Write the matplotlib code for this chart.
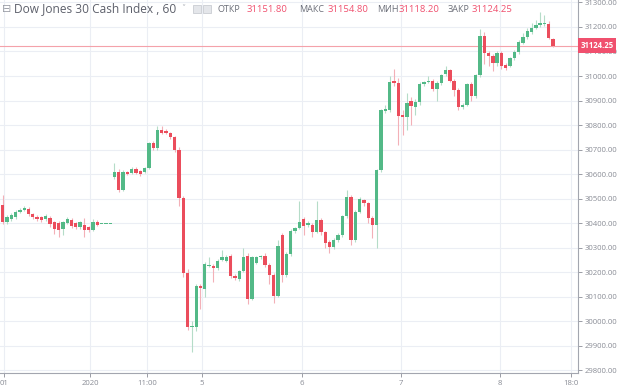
import numpy as np
import matplotlib
matplotlib.use("Agg")
import matplotlib.pyplot as plt
from matplotlib.patches import Rectangle

# --- hourly bars, Dow Jones 30 Cash Index ---
opens = [30474, 30405, 30417, 30425, 30446, 30454, 30458, 30437, 30425, 30425,
         30417, 30421, 30405, 30401, 30376, 30401, 30413, 30401, 30384, 30393,
         30384, 30372, 30405, 30397, 30397, 30397, 30588, 30609, 30535, 30609,
         30605, 30621, 30613, 30609, 30625, 30727, 30706, 30780, 30776, 30768,
         30751, 30698, 30503, 30197, 29977, 29977, 30144, 30132, 30225, 30225,
         30217, 30250, 30246, 30266, 30185, 30172, 30205, 30266, 30091, 30238,
         30262, 30266, 30229, 30189, 30103, 30352, 30189, 30274, 30368, 30380,
         30417, 30393, 30393, 30364, 30413, 30364, 30323, 30303, 30331, 30352,
         30429, 30507, 30331, 30446, 30494, 30482, 30421, 30393, 30617, 30857,
         30861, 30980, 30971, 30841, 30833, 30898, 30874, 30894, 30967, 30976,
         30980, 30947, 30971, 31008, 31024, 30980, 30943, 30874, 30882, 30967,
         30918, 31004, 31163, 31094, 31082, 31053, 31094, 31045, 31041, 31073,
         31098, 31135, 31159, 31179, 31196, 31208, 31214, 31212, 31151.80]
closes = [30405, 30425, 30433, 30446, 30454, 30462, 30437, 30425, 30417, 30413,
          30429, 30397, 30376, 30372, 30405, 30417, 30388, 30384, 30405, 30372,
          30372, 30405, 30393, 30397, 30397, 30397, 30609, 30535, 30609, 30600,
          30621, 30605, 30600, 30625, 30727, 30706, 30780, 30768, 30768, 30751,
          30698, 30503, 30197, 29977, 29980, 30144, 30135, 30234, 30229, 30217,
          30246, 30262, 30262, 30185, 30176, 30205, 30262, 30091, 30262, 30262,
          30266, 30229, 30189, 30103, 30307, 30189, 30274, 30368, 30380, 30405,
          30388, 30401, 30364, 30413, 30364, 30319, 30303, 30331, 30352, 30429,
          30507, 30331, 30446, 30499, 30482, 30421, 30393, 30617, 30861, 30865,
          30976, 30971, 30837, 30833, 30890, 30878, 30894, 30967, 30976, 30980,
          30947, 30971, 31004, 31024, 30980, 30943, 30874, 30882, 30967, 30918,
          31004, 31163, 31094, 31082, 31053, 31094, 31041, 31033, 31073, 31098,
          31139, 31159, 31183, 31196, 31208, 31216, 31216, 31155, 31124.25]
highs = [30515, 30432, 30440, 30452, 30462, 30468, 30465, 30442, 30432, 30430,
         30436, 30428, 30410, 30408, 30410, 30425, 30420, 30406, 30410, 30420,
         30390, 30418, 30412, 30397, 30397, 30397, 30645, 30620, 30616, 30614,
         30628, 30630, 30618, 30630, 30732, 30735, 30795, 30795, 30782, 30772,
         30756, 30710, 30510, 30215, 30000, 30150, 30150, 30240, 30260, 30232,
         30252, 30290, 30270, 30275, 30192, 30210, 30300, 30280, 30268, 30268,
         30272, 30280, 30236, 30195, 30330, 30360, 30282, 30375, 30386, 30490,
         30425, 30410, 30400, 30490, 30420, 30370, 30330, 30338, 30360, 30435,
         30535, 30515, 30455, 30505, 30500, 30488, 30428, 30622, 30866, 30880,
         31000, 31030, 30990, 30860, 30930, 30915, 30905, 30975, 30980, 31000,
         30986, 30978, 31010, 31040, 31030, 30988, 30950, 30890, 30972, 30975,
         31010, 31190, 31180, 31100, 31090, 31100, 31100, 31055, 31078, 31105,
         31145, 31175, 31195, 31215, 31230, 31260, 31250, 31225, 31154.80]
lows = [30395, 30396, 30410, 30418, 30440, 30448, 30430, 30418, 30410, 30405,
        30410, 30385, 30355, 30345, 30350, 30395, 30380, 30375, 30378, 30345,
        30365, 30368, 30388, 30397, 30397, 30397, 30582, 30528, 30530, 30595,
        30600, 30600, 30594, 30604, 30620, 30700, 30700, 30762, 30762, 30745,
        30690, 30470, 30180, 29965, 29875, 29960, 30050, 30100, 30220, 30160,
        30210, 30244, 30240, 30178, 30168, 30165, 30200, 30070, 30085, 30232,
        30255, 30222, 30150, 30075, 30098, 30160, 30182, 30268, 30360, 30375,
        30350, 30385, 30345, 30358, 30350, 30300, 30280, 30295, 30325, 30345,
        30420, 30310, 30325, 30440, 30470, 30400, 30340, 30300, 30610, 30850,
        30855, 30960, 30720, 30760, 30780, 30800, 30840, 30880, 30960, 30970,
        30940, 30900, 30965, 31000, 30975, 30920, 30860, 30865, 30876, 30900,
        30910, 30998, 31050, 31040, 31020, 31040, 31030, 31025, 31035, 31065,
        31090, 31130, 31150, 31172, 31190, 31200, 31205, 31150, 31118.20]

price_ticks = np.arange(29800, 31301, 100)
x_tick_pos = [0.3, 20.3, 33.6, 46.3, 69.6, 92.6, 115.7, 132.2]
x_tick_labels = ["01", "2020", "11:00", "5", "6", "7", "8", "18:0"]
last_price = 31124.25

title = "Dow Jones 30 Cash Index , 60"
ohlc_names = ["ОТКР", "МАКС", "МИН", "ЗАКР"]
ohlc_values = ["31151.80", "31154.80", "31118.20", "31124.25"]

UP = "#53b987"
DOWN = "#eb4d5c"
UP_WICK = "#b5dcc8"
DOWN_WICK = "#f3b0b7"
TXT = "#8a8d96"

plt.rcParams["font.family"] = ["Open Sans", "DejaVu Sans"]

W, H = 620, 388
fig = plt.figure(figsize=(W / 100, H / 100), dpi=100)
ax = fig.add_axes([0, 15 / H, 578 / W, 373 / H])

o = np.array(opens)
c = np.array(closes)
hi = np.array(highs)
lo = np.array(lows)
x = np.arange(len(o))
up = c >= o

# wicks
ax.vlines(x[up], lo[up], hi[up], color=UP_WICK, lw=0.8, zorder=2)
ax.vlines(x[~up], lo[~up], hi[~up], color=DOWN_WICK, lw=0.8, zorder=2)

# bodies
bottom = np.minimum(o, c)
height = np.maximum(np.abs(c - o), 2.5)
ax.bar(x[up], height[up], bottom=bottom[up], width=0.78, color=UP, lw=0, zorder=3)
ax.bar(x[~up], height[~up], bottom=bottom[~up], width=0.78, color=DOWN, lw=0, zorder=3)

ax.axhline(last_price, color="#f4a2aa", lw=0.8, zorder=1)

ax.set_xlim(-0.63, 133.8)
ax.set_ylim(29789, 31310)

ax.yaxis.tick_right()
ax.set_yticks(price_ticks)
ax.set_yticklabels([f"{p:.2f}" for p in price_ticks])
ax.set_xticks(x_tick_pos)
ax.set_xticklabels(x_tick_labels)
ax.tick_params(axis="both", labelsize=5.6, colors=TXT, length=3, width=0.6, pad=2)

for s in ["top", "left"]:
    ax.spines[s].set_visible(False)
for s in ["right", "bottom"]:
    ax.spines[s].set_color("#a3a6af")
    ax.spines[s].set_linewidth(0.8)

ax.grid(True, color="#ebeef4", lw=0.8, zorder=0)
ax.set_axisbelow(True)

# last price tag on the scale
ax.text(1.004, last_price, f"{last_price:.2f}", transform=ax.get_yaxis_transform(),
        ha="left", va="center", color="white", fontsize=5.6, fontweight="bold",
        bbox=dict(boxstyle="square,pad=0.35", fc="#f0506e", ec="none"),
        clip_on=False, zorder=10)

# header legend
def fx(px):
    return px / W

hy = 1 - 9 / H
fig.text(fx(2), hy, "⊟", family="DejaVu Sans", fontsize=8, color="#9a9da5", va="center")
fig.text(fx(14), hy, title, fontsize=8.6, color="#5d606b", va="center")
fig.text(fx(181), hy, "˅", family="DejaVu Sans", fontsize=6, color="#b0b3ba", va="center")
for px in [193, 203]:
    fig.patches.append(Rectangle((fx(px), 1 - 13 / H), 8 / W, 8 / H, transform=fig.transFigure,
                                 fc="#e4e6ea", ec="#c9ccd2", lw=0.6))
name_x = [218, 299, 377, 448]
val_x = [247, 328, 399, 472]
for nm, v, nx, vx in zip(ohlc_names, ohlc_values, name_x, val_x):
    fig.text(fx(nx), hy, nm, fontsize=6.5, color="#6b6e78", va="center")
    fig.text(fx(vx), hy, v, fontsize=6.8, color="#f0506e", va="center")

fig.savefig("out.png", dpi=100, facecolor="white")
